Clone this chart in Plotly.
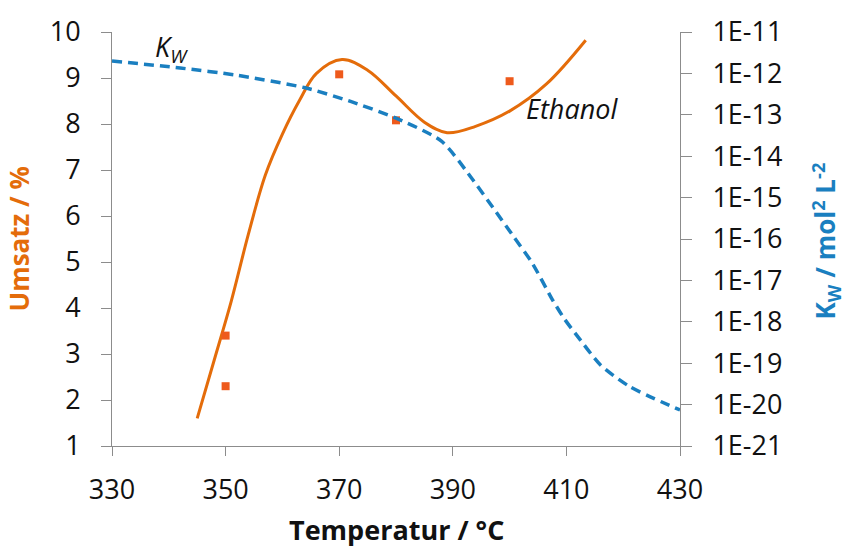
import plotly.graph_objects as go

# ---- data ----
fit_temp = [345, 348, 351, 354, 357, 360, 363, 366, 370.5, 375, 380, 385, 389, 394, 400,
            406.5, 413.4]
fit_umsatz = [1.6, 2.87, 4.15, 5.6, 6.89, 7.78, 8.51, 9.10, 9.40, 9.17, 8.61, 8.04, 7.81,
              7.95, 8.28, 8.87, 9.82]

meas_temp = [350, 350, 370, 380, 400]
meas_umsatz = [3.4, 2.3, 9.08, 8.08, 8.93]

kw_temp = [330, 342, 352, 364, 372, 380, 388, 393.7, 397, 400.8, 404, 407.5, 409.6, 412,
           416, 421, 430]
kw_values = [2.0e-12, 1.35e-12, 9.0e-13, 4.5e-13, 2.1e-13, 8.3e-14, 2.3e-14, 2.5e-15,
             5.9e-16, 1.1e-16, 2.6e-17, 3.5e-18, 1.2e-18, 4.4e-19, 9.1e-20, 2.8e-20,
             7.4e-21]

x_ticks = [330, 350, 370, 390, 410, 430]
y_ticks = [1, 2, 3, 4, 5, 6, 7, 8, 9, 10]
y2_tickvals = [1e-21, 1e-20, 1e-19, 1e-18, 1e-17, 1e-16, 1e-15, 1e-14, 1e-13, 1e-12, 1e-11]
y2_ticktext = ["1E-21", "1E-20", "1E-19", "1E-18", "1E-17", "1E-16", "1E-15", "1E-14",
               "1E-13", "1E-12", "1E-11"]

ORANGE = "#E46C0A"
MARK = "#EE5A1C"
BLUE = "#1A7FC0"
AXIS = "#8C8C8C"
FONT = "Open Sans"

fig = go.Figure()
fig.add_trace(go.Scatter(x=kw_temp, y=kw_values, yaxis="y2", mode="lines",
                         line=dict(color=BLUE, width=3.5, dash="10px,6px", shape="spline",
                                   smoothing=0.7),
                         showlegend=False, hoverinfo="skip"))
fig.add_trace(go.Scatter(x=fit_temp, y=fit_umsatz, mode="lines",
                         line=dict(color=ORANGE, width=3, shape="spline", smoothing=1.0),
                         showlegend=False))
fig.add_trace(go.Scatter(x=meas_temp, y=meas_umsatz, mode="markers",
                         marker=dict(symbol="square", size=8, color=MARK,
                                     line=dict(width=0)),
                         showlegend=False))

tickfont = dict(family=FONT, size=27, color="#111111")

fig.update_layout(
    width=847, height=547,
    margin=dict(l=112, r=167, t=25, b=101, pad=0),
    plot_bgcolor="white", paper_bgcolor="white",
    font=dict(family=FONT),
    xaxis=dict(range=[330, 430], tickvals=x_ticks, ticks="outside", ticklen=9,
               tickcolor=AXIS, showline=True, linecolor=AXIS, linewidth=1,
               showgrid=False, zeroline=False, tickfont=tickfont,
               ticklabelstandoff=11),
    yaxis=dict(range=[1, 10], tickvals=y_ticks, ticks="outside", ticklen=10,
               tickcolor=AXIS, showline=True, linecolor=AXIS, linewidth=1,
               showgrid=False, zeroline=False, tickfont=tickfont,
               ticklabelstandoff=15),
    yaxis2=dict(type="log", range=[-21, -11], overlaying="y", side="right",
                tickvals=y2_tickvals, ticktext=y2_ticktext, ticks="outside", ticklen=11,
                tickcolor=AXIS, showline=True, linecolor=AXIS, linewidth=1,
                showgrid=False, zeroline=False, tickfont=tickfont,
                ticklabelstandoff=15),
)

annotations = [
    dict(text="<b>Umsatz / %</b>", xref="paper", yref="paper", x=(19 - 112) / 568,
         y=(446 - 236) / 421, textangle=-90, showarrow=False,
         font=dict(family=FONT, size=26, color=ORANGE), xanchor="center", yanchor="middle"),
    dict(text="<b>K<sub>W</sub> / mol<sup>2</sup> L<sup>-2</sup></b>", xref="paper",
         yref="paper", x=(826 - 112) / 568, y=(446 - 238) / 421, textangle=-90,
         showarrow=False, font=dict(family=FONT, size=26, color=BLUE),
         xanchor="center", yanchor="middle"),
    dict(text="<b>Temperatur / °C</b>", xref="paper", yref="paper", x=0.5,
         y=(446 - 531) / 421, showarrow=False,
         font=dict(family=FONT, size=27, color="#111111"), xanchor="center",
         yanchor="middle"),
    dict(text="<i>Ethanol</i>", xref="x", yref="y", x=411, y=8.33, showarrow=False,
         font=dict(family=FONT, size=27, color="#111111"), xanchor="center",
         yanchor="middle"),
    dict(text="<i>K<sub>W</sub></i>", xref="x", yref="y", x=340.5, y=9.64,
         showarrow=False, font=dict(family=FONT, size=27, color="#111111"),
         xanchor="center", yanchor="middle"),
]
fig.update_layout(annotations=annotations)

fig.write_html("out.html")
